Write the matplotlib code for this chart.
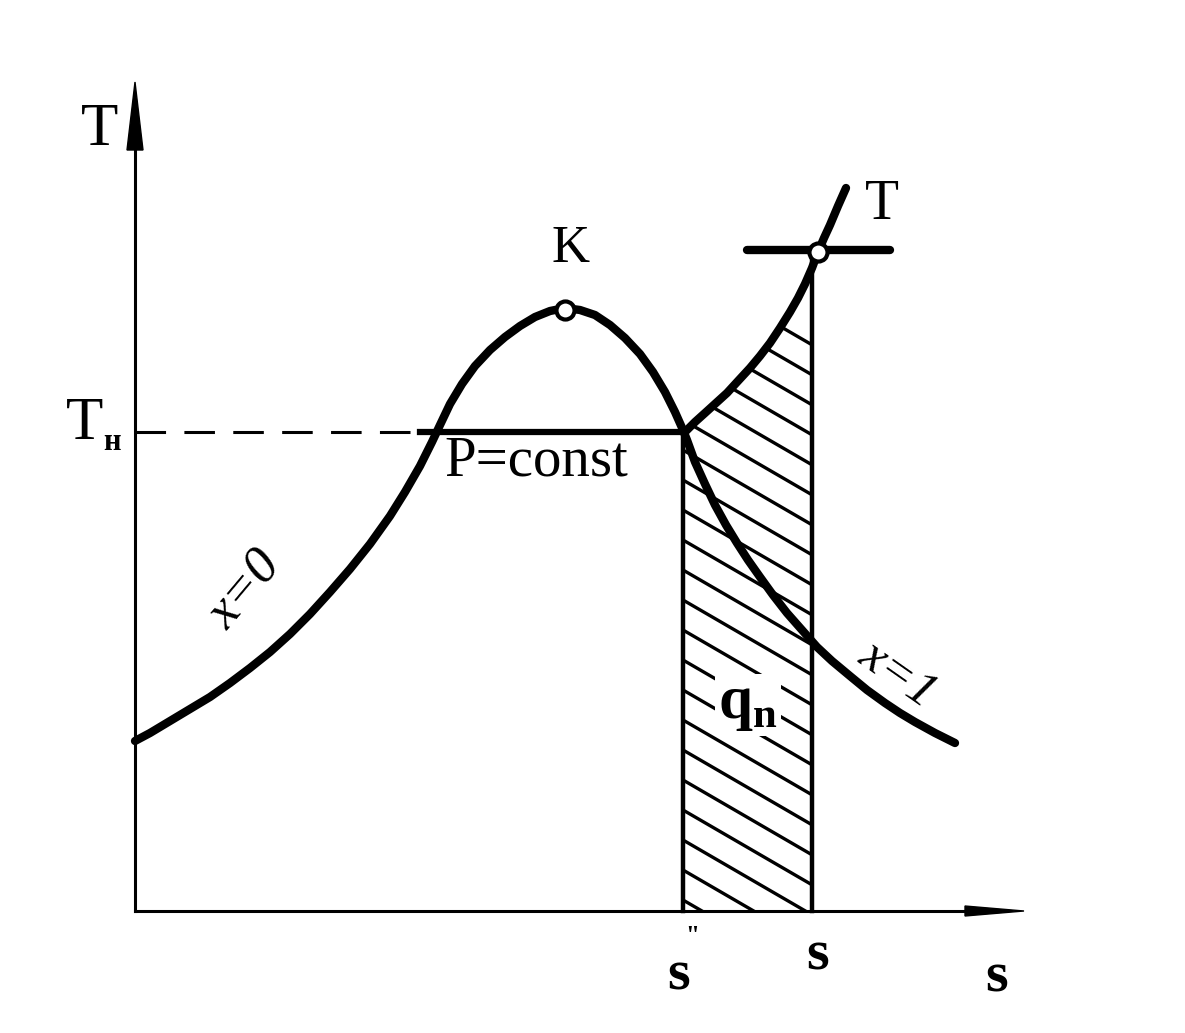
import numpy as np
import matplotlib
matplotlib.use('Agg')
import matplotlib.pyplot as plt
from matplotlib.patches import Polygon

# picture is a schematic T-s diagram, coordinates are in pixels (y downwards)
W, H = 1185, 1033
x_axis_y = 911
y_axis_x = 135

# saturation dome: x=0 branch up to K, then x=1 branch
s_liq = [135, 150, 170, 190, 210, 230, 250, 270, 290, 310, 330, 350, 370, 390, 405, 420, 432,
         440, 450, 462, 475, 490, 505, 520, 535, 550, 565]
T_liq = [741, 733, 721, 709, 697, 683, 668, 652, 634, 614, 592, 569, 544, 516, 492, 466, 442,
         425, 404, 384, 366, 350, 337, 326, 317, 311, 308]
s_vap = [565, 580, 595, 610, 625, 640, 653, 665, 675, 683, 687, 695, 705, 715, 726, 737, 748,
         760, 773, 787, 802, 817, 832, 850, 867, 885, 900, 915, 935, 955]
T_vap = [308, 310, 315, 325, 338, 354, 372, 392, 412, 430, 440, 462, 484, 505, 525, 543, 560,
         577, 595, 613, 630, 647, 661, 676, 690, 703, 713, 722, 733, 743]

# isobar p=const: boiling part and superheated part
s_boil = [420, 685]
T_boil = [432, 432]
s_sup = [685, 695, 705, 716, 727, 738, 750, 760, 770, 780, 790, 798, 805, 812, 818, 824, 830, 838, 846]
T_sup = [432, 422, 413, 403, 393, 381, 368, 356, 343, 328, 312, 298, 284, 268, 252, 238, 225, 206, 188]

# T = const line through the state point
s_iso = [747, 890]
T_iso = [250, 250]

s_K, T_K = 565, 310
s_pt, T_pt = 818, 252
s_dprime = 683
s_state = 812
T_sat = 432

fig = plt.figure(figsize=(W / 100, H / 100), dpi=100)
ax = fig.add_axes([0, 0, 1, 1])
ax.set_xlim(0, W)
ax.set_ylim(H, 0)
ax.axis('off')

# axes with arrows
ax.plot([y_axis_x, y_axis_x], [x_axis_y, 100], color='black', lw=2.2)
ax.add_patch(Polygon([[y_axis_x, 82], [y_axis_x - 8, 150], [y_axis_x + 8, 150]], closed=True,
                     color='black'))
ax.plot([y_axis_x, 1000], [x_axis_y, x_axis_y], color='black', lw=2.2)
ax.add_patch(Polygon([[1024, x_axis_y], [965, x_axis_y - 5], [965, x_axis_y + 5]], closed=True,
                     color='black'))

# hatched area q_n under superheating line
area = [[s_dprime, x_axis_y], [s_dprime, T_sat]] + \
       [[s, t] for s, t in zip(s_sup, T_sup) if s <= s_state] + \
       [[s_state, np.interp(s_state, s_sup, T_sup)], [s_state, x_axis_y]]
clip = Polygon(area, closed=True, facecolor='none', edgecolor='none', transform=ax.transData)
ax.add_patch(clip)
slope = 0.58
for y0 in np.arange(270, 1000, 30):
    xs = np.array([s_dprime - 5, s_state + 5])
    ln, = ax.plot(xs, y0 + slope * (xs - s_dprime), color='black', lw=2.4, zorder=1)
    ln.set_clip_path(clip)

ax.plot([s_dprime, s_dprime], [T_sat, x_axis_y], color='black', lw=3.2, zorder=2)
ax.plot([s_state, s_state], [T_pt, x_axis_y], color='black', lw=3.2, zorder=2)

# dashed T_n level
ax.plot([y_axis_x, s_boil[0]], [T_sat, T_sat], color='black', lw=2.2,
        linestyle=(0, (10, 6)))

curve = dict(color='black', lw=6, solid_capstyle='round', solid_joinstyle='round', zorder=3)
ax.plot(s_liq, T_liq, **curve)
ax.plot(s_vap, T_vap, **curve)
ax.plot(s_boil, T_boil, color='black', lw=4.5, zorder=3)
ax.plot(s_sup, T_sup, **curve)
ax.plot(s_iso, T_iso, color='black', lw=6, solid_capstyle='round', zorder=3)

ax.plot([s_K], [T_K], marker='o', ms=13, mfc='white', mec='black', mew=3, zorder=4)
ax.plot([s_pt], [T_pt], marker='o', ms=13, mfc='white', mec='black', mew=3, zorder=4)

font = dict(family='Liberation Serif', color='black')
ax.text(100, 130, 'T', fontsize=44, ha='center', va='center', **font)
ax.text(85, 424, 'T', fontsize=44, ha='center', va='center', **font)
ax.text(112, 442, 'н', fontsize=22, ha='center', va='center', weight='bold', **font)
ax.text(571, 249, 'K', fontsize=38, ha='center', va='center', **font)
ax.text(882, 205, 'T', fontsize=40, ha='center', va='center', **font)
ax.text(536, 462, 'P=const', fontsize=41, ha='center', va='center', **font)
ax.text(245, 590, 'x=0', fontsize=38, ha='center', va='center', rotation=50,
        style='italic', **font)
ax.text(898, 675, 'x=1', fontsize=37, ha='center', va='center', rotation=-35,
        style='italic', **font)
ax.text(748, 705, r'q$_{\mathregular{n}}$', fontsize=44, ha='center', va='center',
        weight='bold', zorder=5, **font,
        bbox=dict(facecolor='white', edgecolor='none', pad=2))
ax.text(679, 975, 's', fontsize=42, ha='center', va='center', weight='bold', **font)
ax.text(692, 936, '"', fontsize=18, ha='center', va='center', weight='bold', **font)
ax.text(818, 955, 's', fontsize=42, ha='center', va='center', weight='bold', **font)
ax.text(997, 977, 's', fontsize=42, ha='center', va='center', weight='bold', **font)

fig.savefig('out.png', dpi=100, facecolor='white')
